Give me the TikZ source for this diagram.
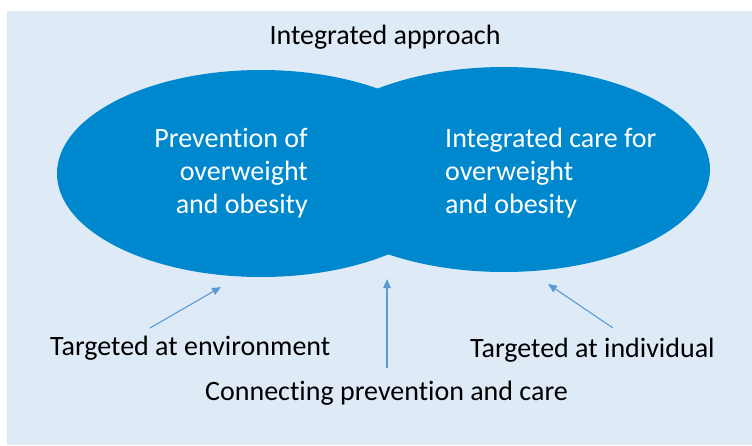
\documentclass[tikz,border=0pt]{standalone}
\usepackage{fontspec}
\setmainfont{Carlito}[Ligatures=NoCommon]
\usetikzlibrary{shapes.geometric,arrows.meta}
\definecolor{panel}{HTML}{DEEBF7}
\definecolor{lens}{HTML}{0088CE}
\definecolor{pointer}{HTML}{5B9BD5}
\begin{document}
\begin{tikzpicture}[x=1pt,y=-1pt,
  blob/.style={ellipse,fill=lens,draw=none,inner sep=0pt},
  txt/.style={inner sep=0pt,font=\fontsize{28}{33}\selectfont},
  intxt/.style={txt,text=white},
  ptr/.style={draw=pointer,line width=1.1pt,-{Triangle[length=9pt,width=7.5pt]}}
]
\useasboundingbox (0,0) rectangle (752,445);
% light panel behind everything
\fill[panel] (7,11) rectangle (752,445);

% the two overlapping ellipses
\node[blob,minimum width=408pt,minimum height=207pt] (prev) at (261,173.5) {};
\node[blob,minimum width=412pt,minimum height=205pt] (care) at (504,169.5) {};

% titles
\node[txt,anchor=base] (title) at (385,44) {Integrated approach};

\node[intxt,anchor=base east] (p1) at (308,147) {Prevention of};
\node[intxt,anchor=base east] (p2) at (308,180.5) {overweight};
\node[intxt,anchor=base east] (p3) at (308,213) {and obesity};

\node[intxt,anchor=base west] (c1) at (445,147) {Integrated care for};
\node[intxt,anchor=base west] (c2) at (445,180.5) {overweight};
\node[intxt,anchor=base west] (c3) at (445,213) {and obesity};

% bottom labels
\node[txt,anchor=base west] (env) at (50,355) {Targeted at environment};
\node[txt,anchor=base west] (ind) at (470,357) {Targeted at individual};
\node[txt,anchor=base west] (conn) at (205,400) {Connecting prevention and care};

% pointer arrows
\coordinate (envtail) at (150,328);
\coordinate (envtip) at (221,287);
\coordinate (conntail) at (387,368);
\coordinate (conntip) at (387,279);
\coordinate (indtail) at (613,328);
\coordinate (indtip) at (548,284);
\draw[ptr] (envtail) -- (envtip);
\draw[ptr] (conntail) -- (conntip);
\draw[ptr] (indtail) -- (indtip);
\end{tikzpicture}
\end{document}
